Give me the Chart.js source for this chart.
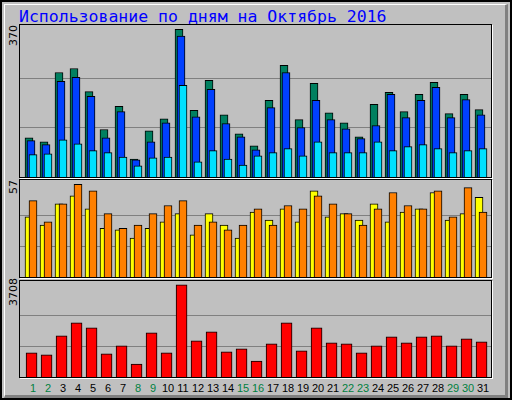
<!DOCTYPE html>
<html><head><meta charset="utf-8">
<script src="https://cdn.jsdelivr.net/npm/chart.js@4/dist/chart.umd.min.js"></script>
<style>
body{margin:0;background:#fff;}
#frame{position:absolute;left:0;top:0;width:508px;height:396px;background:#c0c0c0;border:2px solid #000;}
#inner{position:absolute;left:2px;top:2px;width:500px;height:390px;border-right:3px solid #808080;border-bottom:3px solid #808080;border-left:1px solid #fff;border-top:1px solid #fff;}
.title{position:absolute;left:19px;top:7px;font:16.5px "DejaVu Sans Mono",monospace;color:#0000ff;white-space:nowrap;}
.panel{position:absolute;left:19px;width:471px;border:1px solid #000;box-shadow:1px 1px 0 #fff;}
.panel canvas{display:block;}
.ylab{position:absolute;font:11px "DejaVu Sans",sans-serif;color:#000;transform-origin:left top;transform:rotate(-90deg);white-space:nowrap;}
.day{position:absolute;top:382px;font:11px "Liberation Sans",sans-serif;width:20px;text-align:center;}
</style></head>
<body>
<div id="frame"><div id="inner"></div></div>
<div class="title">Использование по дням на Октябрь 2016</div>
<div class="panel" style="top:24px;height:152px"><canvas id="c1" width="471" height="152"></canvas></div>
<div class="panel" style="top:179px;height:97px"><canvas id="c2" width="471" height="97"></canvas></div>
<div class="panel" style="top:280px;height:96px"><canvas id="c3" width="471" height="96"></canvas></div>
<div class="ylab" style="left:7px;top:46px">370</div>
<div class="ylab" style="left:7px;top:194px">57</div>
<div class="ylab" style="left:7px;top:306px">3708</div>
<div id="days"></div>
<script>
const days = Array.from({length: 31}, (_, i) => i + 1);
const weekends = [1, 2, 8, 9, 15, 16, 22, 23, 29, 30];
const hits  = [98,88,262,272,214,119,177,45,116,146,370,167,242,156,108,78,192,280,144,235,161,136,101,182,212,164,207,237,159,207,169];
const files = [91,81,240,250,202,98,164,43,88,136,353,151,220,134,101,68,174,262,124,192,144,121,96,129,207,149,192,225,149,194,156];
const pages = [56,58,93,83,66,61,50,28,48,50,230,38,66,45,30,53,61,71,53,88,61,61,61,88,66,76,81,71,61,66,71];
const visits = [37,32,45,50,42,30,29,24,30,34,39,26,39,32,24,40,35,42,34,53,37,39,35,45,34,40,42,52,35,39,49];
const sites  = [47,34,45,57,53,39,30,32,39,44,47,32,34,29,32,42,32,44,42,50,45,39,32,42,52,44,42,53,37,55,40];
const kbytes = [967,887,1652,2176,1975,927,1249,524,1773,967,3708,1451,1814,1008,1128,645,1330,2176,1048,1975,1370,1330,967,1249,1612,1370,1612,1652,1249,1531,1410];

function ds(vals, off, color, order, w) {
  return {
    data: vals.map((v, i) => ({x: days[i] + off, y: v})),
    backgroundColor: color, borderColor: '#000', borderWidth: 1,
    borderSkipped: 'bottom', barThickness: w, grouped: false, order: order
  };
}
function panel(id, datasets, max, grids) {
  new Chart(document.getElementById(id), {
    type: 'bar',
    data: {datasets: datasets},
    options: {
      responsive: false, animation: false,
      layout: {padding: 0},
      plugins: {legend: {display: false}, tooltip: {enabled: false}},
      scales: {
        x: {type: 'linear', min: 0.4, max: 31.8, offset: false, display: false},
        y: {min: 0, max: max, grid: {color: '#808080', drawTicks: false, lineWidth: 1},
            border: {display: false}, ticks: {display: false, padding: 0},
            afterFit: s => { s.width = 0; },
            afterBuildTicks: s => { s.ticks = grids.map(v => ({value: v})); }}
      }
    },
    plugins: [{id: 'bg', beforeDraw(c) {
      c.ctx.fillStyle = '#c0c0c0'; c.ctx.fillRect(0, 0, c.width, c.height);
    }}]
  });
}
panel('c1', [
  ds(hits, 0, '#008060', 2, 8),
  ds(files, 0.133, '#0040ff', 1, 8),
  ds(pages, 0.267, '#00e0ff', 0, 8)
], 381, [123.3, 246.7]);
panel('c2', [
  ds(visits, 0, '#ffff00', 1, 8),
  ds(sites, 0.267, '#ff8000', 0, 8)
], 59.7, [19, 38]);
panel('c3', [
  ds(kbytes, 0.17, '#ff0000', 0, 11)
], 3860, [1236, 2472]);

const box = document.getElementById('days');
days.forEach(d => {
  const s = document.createElement('div');
  s.className = 'day';
  s.textContent = d;
  s.style.left = (23 + 15 * (d - 1)) + 'px';
  s.style.color = weekends.includes(d) ? '#008040' : '#000';
  box.appendChild(s);
});
</script>
</body></html>
